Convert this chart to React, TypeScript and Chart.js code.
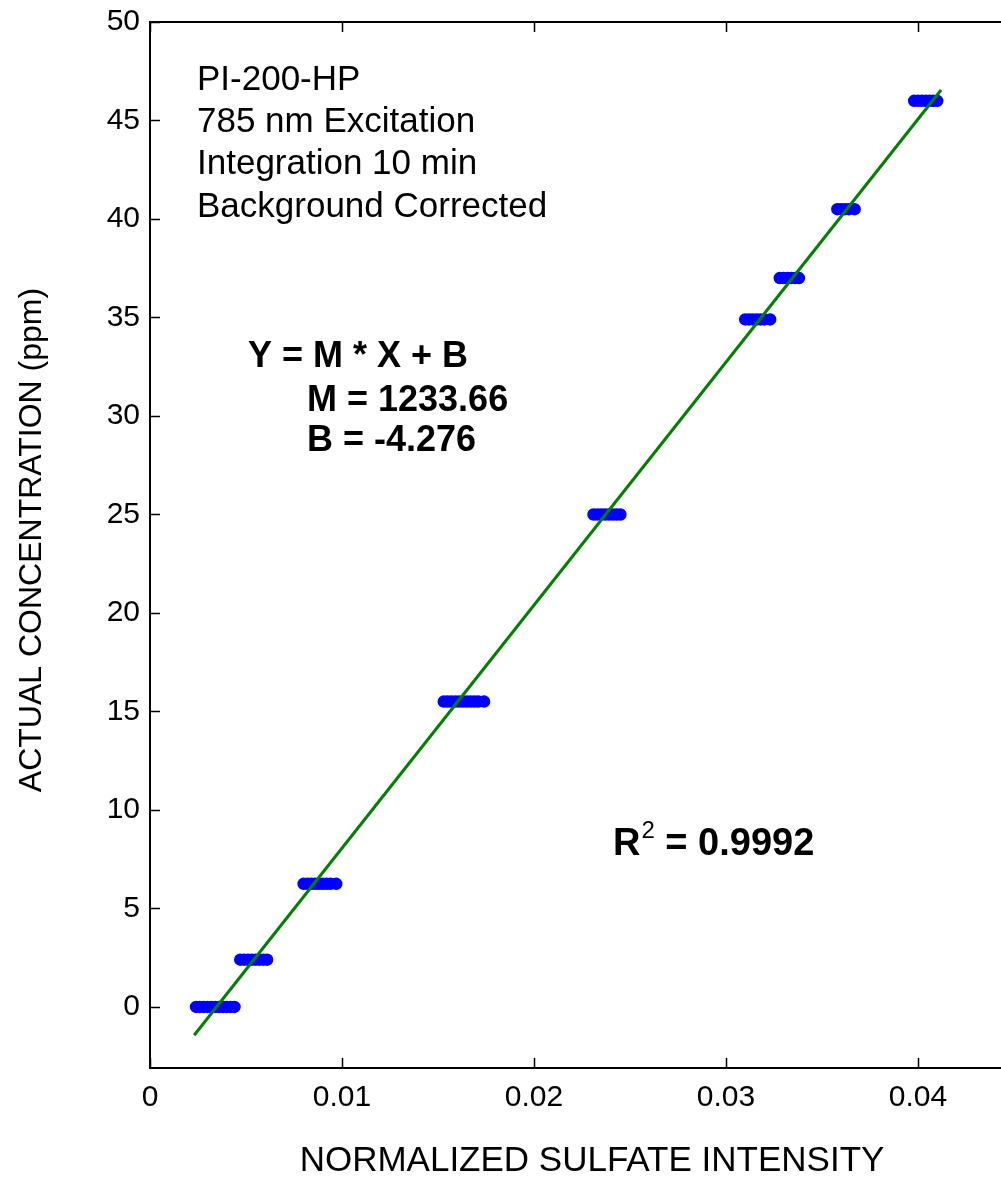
import React, { useEffect, useRef } from "react";
import { Chart, registerables } from "chart.js";

Chart.register(...registerables);

// Concentration levels (ppm) of each calibration standard
const levels = [0, 2.4, 6.25, 15.5, 25, 34.9, 37, 40.5, 46];

// Normalized sulfate intensity readings for each standard
const x00 = [0.0024, 0.0026, 0.0028, 0.003, 0.0032, 0.0034, 0.0036, 0.0038, 0.004, 0.0042, 0.0044];
const x02 = [0.0047, 0.0049, 0.0051, 0.0053, 0.0055, 0.0057, 0.0059, 0.0061];
const x06 = [0.008, 0.0082, 0.0084, 0.0086, 0.0088, 0.009, 0.0092, 0.0094, 0.0097];
const x15 = [0.0153, 0.0155, 0.0157, 0.0159, 0.0161, 0.0163, 0.0165, 0.0167, 0.0169, 0.0171, 0.0174];
const x25 = [0.0231, 0.0233, 0.0235, 0.0237, 0.0239, 0.0241, 0.0243, 0.0245];
const x35 = [0.031, 0.0312, 0.0314, 0.0316, 0.0318, 0.032, 0.0323];
const x37 = [0.0328, 0.033, 0.0332, 0.0334, 0.0336, 0.0338];
const x40 = [0.0358, 0.036, 0.0362, 0.0364, 0.0367];
const x46 = [0.0398, 0.04, 0.0402, 0.0404, 0.0406, 0.0408, 0.041];
const readings = [x00, x02, x06, x15, x25, x35, x37, x40, x46];

// Least-squares fit line end points
const fitX = [0.0023, 0.0412];
const fitY = [-1.44, 46.55];

const xTicks = [0, 0.01, 0.02, 0.03, 0.04];
const yTicks = [0, 5, 10, 15, 20, 25, 30, 35, 40, 45, 50];

const infoLines = ["PI-200-HP", "785 nm Excitation", "Integration 10 min", "Background Corrected"];
const eqLines = ["Y = M * X + B", "M = 1233.66", "B = -4.276"];
const r2Label = "R";
const r2Sup = "2";
const r2Value = " = 0.9992";
const xTitle = "NORMALIZED SULFATE INTENSITY";
const yTitle = "ACTUAL CONCENTRATION (ppm)";

const FONT = "'Liberation Sans', Arial, Helvetica, sans-serif";

const framePlugin = {
  id: "frame",
  beforeDatasetsDraw(chart: any) {
    const { ctx, chartArea } = chart;
    const { left, right, top, bottom } = chartArea;
    const xs = chart.scales.x;
    const ys = chart.scales.y;
    ctx.save();
    ctx.strokeStyle = "#000";
    ctx.lineWidth = 2;
    ctx.strokeRect(left, top, right - left, bottom - top);
    ctx.lineWidth = 1.5;
    const tl = 10;
    ctx.beginPath();
    xTicks.forEach((v) => {
      const px = Math.round(xs.getPixelForValue(v)) + 0.5;
      ctx.moveTo(px, bottom);
      ctx.lineTo(px, bottom - tl);
      ctx.moveTo(px, top);
      ctx.lineTo(px, top + tl);
    });
    yTicks.forEach((v) => {
      const py = Math.round(ys.getPixelForValue(v)) + 0.5;
      ctx.moveTo(left, py);
      ctx.lineTo(left + tl, py);
      ctx.moveTo(right, py);
      ctx.lineTo(right - tl, py);
    });
    ctx.stroke();
    ctx.restore();
  },
  afterDraw(chart: any) {
    const { ctx } = chart;
    ctx.save();
    ctx.fillStyle = "#000";
    ctx.textBaseline = "middle";
    ctx.textAlign = "left";
    ctx.font = `35px ${FONT}`;
    const infoY = [80, 122, 164, 207];
    infoLines.forEach((t, i) => ctx.fillText(t, 197, infoY[i]));

    ctx.font = `bold 36px ${FONT}`;
    const eqX = [248, 307, 307];
    const eqY = [357, 401, 441];
    eqLines.forEach((t, i) => ctx.fillText(t, eqX[i], eqY[i]));

    // R^2
    ctx.font = `bold 38px ${FONT}`;
    let x = 613;
    const y = 845;
    ctx.fillText(r2Label, x, y);
    x += ctx.measureText(r2Label).width;
    ctx.font = `24px ${FONT}`;
    ctx.fillText(r2Sup, x + 1, y - 14);
    x += ctx.measureText(r2Sup).width + 1;
    ctx.font = `bold 38px ${FONT}`;
    ctx.fillText(r2Value, x, y);

    // axis titles
    ctx.font = `35px ${FONT}`;
    ctx.textAlign = "center";
    ctx.fillText(xTitle, 592, 1161);
    ctx.translate(32, 540);
    ctx.rotate(-Math.PI / 2);
    ctx.font = `32px ${FONT}`;
    ctx.fillText(yTitle, 0, 0);
    ctx.restore();
  },
};

export default function App() {
  const ref = useRef<HTMLCanvasElement | null>(null);

  useEffect(() => {
    if (!ref.current) return;
    const points = readings.flatMap((xs, i) => xs.map((x) => ({ x, y: levels[i] })));
    const fit = fitX.map((x, i) => ({ x, y: fitY[i] }));
    const tickFont = { family: FONT, size: 30 };
    const chart = new Chart(ref.current, {
      type: "scatter",
      data: {
        datasets: [
          {
            type: "line",
            data: fit,
            borderColor: "#008000",
            borderWidth: 3,
            pointRadius: 0,
            fill: false,
          } as any,
          {
            data: points,
            pointStyle: "circle",
            pointRadius: 5.5,
            pointBorderWidth: 1.5,
            borderColor: "#0000ff",
            backgroundColor: "#0000ff",
            pointBackgroundColor: "#0000ff",
            pointBorderColor: "#0000ff",
          } as any,
        ],
      },
      options: {
        responsive: false,
        animation: false,
        devicePixelRatio: 1,
        layout: { padding: { top: 22, right: 16, left: 0, bottom: 0 } },
        plugins: { legend: { display: false }, tooltip: { enabled: false } },
        scales: {
          x: {
            type: "linear",
            min: 0,
            max: 0.045,
            grid: { display: false, drawTicks: false },
            border: { display: false },
            afterBuildTicks: (s: any) => {
              s.ticks = xTicks.map((v) => ({ value: v }));
            },
            afterFit: (s: any) => {
              s.height = 122;
              s.paddingLeft = 0;
              s.paddingRight = 0;
              s.paddingTop = 0;
              s.paddingBottom = 0;
            },
            ticks: {
              font: tickFont,
              color: "#000",
              padding: 12,
              maxRotation: 0,
              autoSkip: false,
              callback: (v: any) => (v === 0 ? "0" : String(Number(v).toFixed(2))),
            },
          },
          y: {
            type: "linear",
            min: -3.1,
            max: 50,
            grid: { display: false, drawTicks: false },
            border: { display: false },
            afterBuildTicks: (s: any) => {
              s.ticks = yTicks.map((v) => ({ value: v }));
            },
            afterFit: (s: any) => {
              s.width = 150;
              s.paddingLeft = 0;
              s.paddingRight = 0;
              s.paddingTop = 0;
              s.paddingBottom = 0;
            },
            ticks: {
              font: tickFont,
              color: "#000",
              padding: 10,
              autoSkip: false,
              callback: (v: any) => String(v),
            },
          },
        },
      },
      plugins: [framePlugin],
    });
    return () => chart.destroy();
  }, []);

  return (
    <div
      style={{
        position: "fixed",
        left: 0,
        top: 0,
        width: 1001,
        height: 1190,
        overflow: "hidden",
        background: "#fff",
      }}
    >
      <canvas ref={ref} width={1030} height={1190} style={{ width: 1030, height: 1190, display: "block" }} />
    </div>
  );
}
